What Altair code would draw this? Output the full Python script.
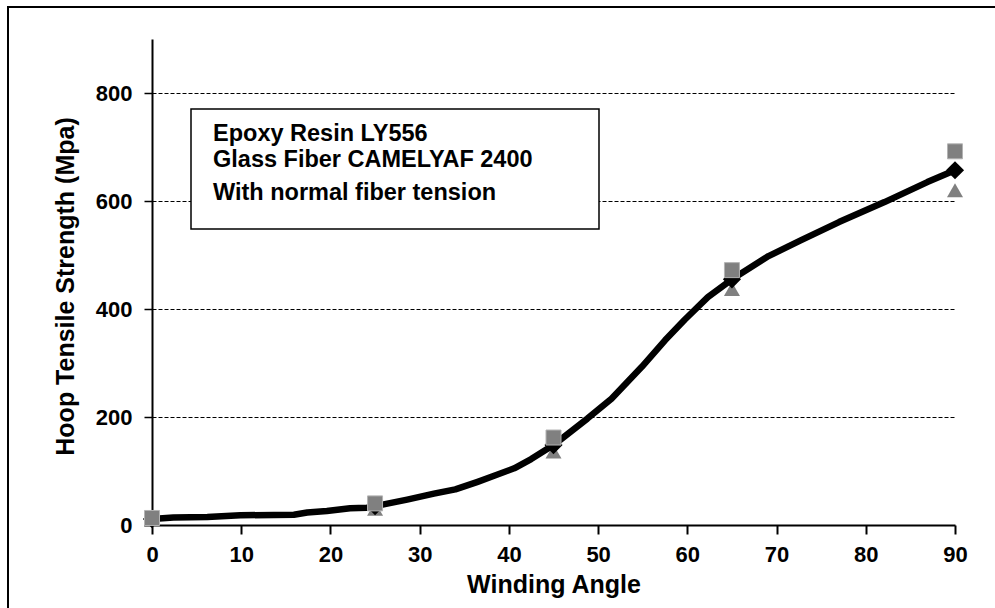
import altair as alt
import pandas as pd

# ---------------- data ----------------
angles = [0, 25, 45, 65, 90]
mean_strength = [11, 35, 148, 455, 657]
upper_strength = [13, 40, 162, 472, 692]
lower_strength = [9, 30, 136, 437, 620]

curve_angle = [0, 2.4, 6.2, 9.9, 15.9, 17.4, 19.6, 22.2, 24.1, 25, 28.6, 31.6, 34,
               36.5, 38.5, 40.6, 42.5, 45, 48.8, 51.5, 54.9, 57.5, 59.7, 62.3, 65, 69.1,
               72.7, 77, 82.1, 86.9, 90]
curve_strength = [11, 14, 15, 18, 19, 23, 26, 31, 32, 35, 47, 58, 66,
                  80, 92, 105, 122, 148, 197, 234, 293, 342, 380, 422, 455, 498,
                  527, 561, 598, 635, 657]

x_ticks = [0, 10, 20, 30, 40, 50, 60, 70, 80, 90]
y_ticks = [0, 200, 400, 600, 800]
note_lines = ["Epoxy Resin LY556", "Glass Fiber CAMELYAF 2400", "With normal fiber tension"]
x_title = "Winding Angle"
y_title = "Hoop Tensile Strength (Mpa)"

FONT = "Liberation Sans"
W, H = 803, 486

mean_df = pd.DataFrame({"angle": angles, "strength": mean_strength})
upper_df = pd.DataFrame({"angle": angles, "strength": upper_strength})
lower_df = pd.DataFrame({"angle": angles, "strength": lower_strength})
curve_df = pd.DataFrame({"angle": curve_angle, "strength": curve_strength})
one_row = alt.Data(values=[{"k": 1}])

x_enc = alt.X(
    "angle:Q",
    scale=alt.Scale(domain=[0, 90], nice=False, zero=False),
    axis=alt.Axis(
        values=x_ticks, title=x_title, grid=False, format="d",
        domainColor="black", domainWidth=2, tickColor="black", tickWidth=2, tickSize=9,
        labelFont=FONT, labelFontSize=22, labelFontWeight="bold", labelColor="black",
        labelPadding=10, labelFlush=False, labelOverlap=False,
        titleFont=FONT, titleFontSize=25, titleFontWeight="bold", titleColor="black",
        titleX=W / 2, titleY=67, titleBaseline="alphabetic", titleAlign="center",
    ),
)
y_enc = alt.Y(
    "strength:Q",
    scale=alt.Scale(domain=[0, 900], nice=False),
    axis=alt.Axis(
        values=y_ticks, title=y_title, grid=True, gridColor="black", gridDash=[4, 2],
        gridWidth=1, format="d",
        domainColor="black", domainWidth=2, tickColor="black", tickWidth=1.5, tickSize=8,
        labelFont=FONT, labelFontSize=22, labelFontWeight="bold", labelColor="black",
        labelPadding=12, labelOverlap=False,
        titleFont=FONT, titleFontSize=25, titleFontWeight="bold", titleColor="black",
        titleX=-79, titleY=H / 2 + 4, titleBaseline="alphabetic", titleAlign="center",
    ),
)

border = alt.Chart(one_row).mark_rect(
    fillOpacity=0, stroke="black", strokeWidth=2
).encode(x=alt.value(-144), x2=alt.value(870), y=alt.value(-32), y2=alt.value(620))

triangles = alt.Chart(lower_df).mark_point(
    shape="triangle-up", filled=True, size=256, fill="#808080", opacity=1
).encode(x=x_enc, y=y_enc)

curve = alt.Chart(curve_df).mark_line(
    color="black", strokeWidth=6.5, strokeJoin="round", strokeCap="round"
).encode(x=x_enc, y=y_enc)

diamonds = alt.Chart(mean_df).mark_point(
    shape="diamond", filled=True, size=330, color="black", opacity=1
).encode(x=x_enc, y=y_enc)

squares = alt.Chart(upper_df).mark_point(
    shape="square", filled=True, size=225, fill="#808080", stroke="#b3b3b3",
    strokeWidth=1, opacity=1
).encode(x=x_enc, y=y_enc)

note_box = alt.Chart(one_row).mark_rect(
    fill="white", stroke="black", strokeWidth=1.5
).encode(x=alt.value(39), x2=alt.value(447), y=alt.value(70), y2=alt.value(190))

note_y = [102, 128, 161]
note_layers = [
    alt.Chart(one_row).mark_text(
        font=FONT, fontSize=23.5, fontWeight="bold", color="black",
        align="left", baseline="alphabetic"
    ).encode(x=alt.value(61), y=alt.value(yy), text=alt.value(txt))
    for txt, yy in zip(note_lines, note_y)
]

chart = alt.layer(
    border, triangles, curve, diamonds, squares, note_box, *note_layers
).properties(
    width=W, height=H,
    autosize=alt.AutoSizeParams(type="none"),
    padding={"left": 152, "top": 39, "right": 40, "bottom": 83},
    background="white",
).configure_view(stroke="transparent")

chart.save("out.html", embed_options={"renderer": "svg", "actions": False})
